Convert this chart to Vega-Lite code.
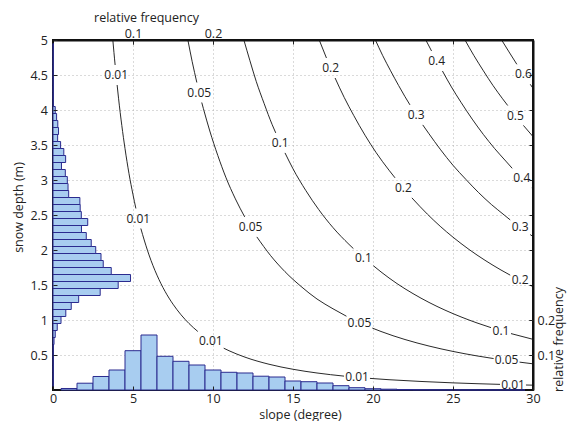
{
  "$schema": "https://vega.github.io/schema/vega-lite/v6.json",
  "width": 480,
  "height": 350,
  "autosize": {"type": "none"},
  "padding": {"left": 53, "top": 40, "right": 34, "bottom": 31},
  "background": "white",
  "config": {
    "view": {"stroke": null},
    "font": "Open Sans",
    "axis": {
      "labelFont": "Open Sans",
      "titleFont": "Open Sans",
      "labelFontSize": 12.5,
      "titleFontSize": 12.5,
      "titleFontWeight": "normal",
      "labelColor": "#222222",
      "titleColor": "#222222",
      "domainColor": "#222222",
      "tickColor": "#222222",
      "gridColor": "#b5b5b5",
      "gridDash": [1, 3],
      "gridOpacity": 1,
      "labelFlush": false
    }
  },
  "datasets": {
    "frame": [{"s0": 0, "s1": 30, "d0": 0, "d1": 5}],
    "contours": [
      {"seg": "a1", "s": 3.74, "d": 5.0}, {"seg": "a1", "s": 3.81, "d": 4.82}, {"seg": "a1", "s": 3.883, "d": 4.643},
      {"seg": "a2", "s": 4.008, "d": 4.357}, {"seg": "a2", "s": 4.1, "d": 4.16}, {"seg": "a2", "s": 4.3, "d": 3.78}, {"seg": "a2", "s": 4.5, "d": 3.45}, {"seg": "a2", "s": 4.75, "d": 3.09}, {"seg": "a2", "s": 5.0, "d": 2.79}, {"seg": "a2", "s": 5.18, "d": 2.593},
      {"seg": "a3", "s": 5.49, "d": 2.307}, {"seg": "a3", "s": 5.6, "d": 2.22}, {"seg": "a3", "s": 6.0, "d": 1.93}, {"seg": "a3", "s": 6.5, "d": 1.64}, {"seg": "a3", "s": 7.0, "d": 1.41}, {"seg": "a3", "s": 7.5, "d": 1.226}, {"seg": "a3", "s": 8.0, "d": 1.075}, {"seg": "a3", "s": 8.5, "d": 0.95}, {"seg": "a3", "s": 9.05, "d": 0.836},
      {"seg": "a4", "s": 10.67, "d": 0.597}, {"seg": "a4", "s": 11.0, "d": 0.561}, {"seg": "a4", "s": 12.0, "d": 0.469}, {"seg": "a4", "s": 13.5, "d": 0.368}, {"seg": "a4", "s": 15.0, "d": 0.296}, {"seg": "a4", "s": 16.5, "d": 0.243}, {"seg": "a4", "s": 18.19, "d": 0.198},
      {"seg": "a5", "s": 19.81, "d": 0.166}, {"seg": "a5", "s": 21.0, "d": 0.147}, {"seg": "a5", "s": 23.0, "d": 0.122}, {"seg": "a5", "s": 25.0, "d": 0.102}, {"seg": "a5", "s": 26.5, "d": 0.09}, {"seg": "a5", "s": 27.94, "d": 0.0805},
      {"seg": "a6", "s": 29.56, "d": 0.0713}, {"seg": "a6", "s": 30.0, "d": 0.069},
      {"seg": "b1", "s": 8.43, "d": 5.0}, {"seg": "b1", "s": 8.7, "d": 4.69}, {"seg": "b1", "s": 8.99, "d": 4.393},
      {"seg": "b2", "s": 9.297, "d": 4.107}, {"seg": "b2", "s": 9.4, "d": 4.02}, {"seg": "b2", "s": 9.8, "d": 3.7}, {"seg": "b2", "s": 10.3, "d": 3.35}, {"seg": "b2", "s": 10.8, "d": 3.04}, {"seg": "b2", "s": 11.4, "d": 2.73}, {"seg": "b2", "s": 11.98, "d": 2.473},
      {"seg": "b3", "s": 12.74, "d": 2.187}, {"seg": "b3", "s": 13.6, "d": 1.92}, {"seg": "b3", "s": 14.5, "d": 1.69}, {"seg": "b3", "s": 15.5, "d": 1.48}, {"seg": "b3", "s": 16.5, "d": 1.3}, {"seg": "b3", "s": 17.5, "d": 1.16}, {"seg": "b3", "s": 18.34, "d": 1.054},
      {"seg": "b4", "s": 19.96, "d": 0.884}, {"seg": "b4", "s": 20.5, "d": 0.836}, {"seg": "b4", "s": 22.0, "d": 0.721}, {"seg": "b4", "s": 23.5, "d": 0.628}, {"seg": "b4", "s": 25.0, "d": 0.551}, {"seg": "b4", "s": 26.5, "d": 0.487}, {"seg": "b4", "s": 27.54, "d": 0.449},
      {"seg": "b5", "s": 29.16, "d": 0.398}, {"seg": "b5", "s": 30.0, "d": 0.374},
      {"seg": "c1", "s": 11.93, "d": 5.0}, {"seg": "c1", "s": 12.3, "d": 4.71}, {"seg": "c1", "s": 12.7, "d": 4.41}, {"seg": "c1", "s": 13.2, "d": 4.09}, {"seg": "c1", "s": 13.7, "d": 3.79}, {"seg": "c1", "s": 13.92, "d": 3.673},
      {"seg": "c2", "s": 14.5, "d": 3.387}, {"seg": "c2", "s": 15.0, "d": 3.16}, {"seg": "c2", "s": 15.8, "d": 2.85}, {"seg": "c2", "s": 16.6, "d": 2.58}, {"seg": "c2", "s": 17.5, "d": 2.32}, {"seg": "c2", "s": 18.5, "d": 2.08}, {"seg": "c2", "s": 18.775, "d": 2.02},
      {"seg": "c3", "s": 20.025, "d": 1.775}, {"seg": "c3", "s": 20.5, "d": 1.687}, {"seg": "c3", "s": 21.5, "d": 1.52}, {"seg": "c3", "s": 22.5, "d": 1.377}, {"seg": "c3", "s": 23.5, "d": 1.251}, {"seg": "c3", "s": 24.5, "d": 1.141}, {"seg": "c3", "s": 25.5, "d": 1.044}, {"seg": "c3", "s": 26.5, "d": 0.958}, {"seg": "c3", "s": 27.375, "d": 0.891},
      {"seg": "c4", "s": 28.625, "d": 0.806}, {"seg": "c4", "s": 30.0, "d": 0.724},
      {"seg": "d1", "s": 16.64, "d": 5.0}, {"seg": "d1", "s": 17.09, "d": 4.743},
      {"seg": "d2", "s": 17.63, "d": 4.457}, {"seg": "d2", "s": 18.2, "d": 4.18}, {"seg": "d2", "s": 18.8, "d": 3.92}, {"seg": "d2", "s": 19.5, "d": 3.64}, {"seg": "d2", "s": 20.2, "d": 3.39}, {"seg": "d2", "s": 21.0, "d": 3.14}, {"seg": "d2", "s": 21.376, "d": 3.031},
      {"seg": "d3", "s": 22.43, "d": 2.745}, {"seg": "d3", "s": 23.4, "d": 2.512}, {"seg": "d3", "s": 24.2, "d": 2.339}, {"seg": "d3", "s": 25.0, "d": 2.183}, {"seg": "d3", "s": 26.0, "d": 2.008}, {"seg": "d3", "s": 27.0, "d": 1.853}, {"seg": "d3", "s": 28.0, "d": 1.714}, {"seg": "d3", "s": 28.575, "d": 1.641},
      {"seg": "d4", "s": 29.825, "d": 1.496}, {"seg": "d4", "s": 30.0, "d": 1.478},
      {"seg": "e1", "s": 20.15, "d": 5.0}, {"seg": "e1", "s": 20.6, "d": 4.78}, {"seg": "e1", "s": 21.1, "d": 4.56}, {"seg": "e1", "s": 21.6, "d": 4.35}, {"seg": "e1", "s": 22.0, "d": 4.19}, {"seg": "e1", "s": 22.31, "d": 4.073},
      {"seg": "e2", "s": 23.11, "d": 3.787}, {"seg": "e2", "s": 23.5, "d": 3.66}, {"seg": "e2", "s": 24.2, "d": 3.44}, {"seg": "e2", "s": 25.0, "d": 3.21}, {"seg": "e2", "s": 25.8, "d": 3.01}, {"seg": "e2", "s": 26.6, "d": 2.82}, {"seg": "e2", "s": 27.4, "d": 2.65}, {"seg": "e2", "s": 28.2, "d": 2.5}, {"seg": "e2", "s": 28.575, "d": 2.43},
      {"seg": "e3", "s": 29.825, "d": 2.22}, {"seg": "e3", "s": 30.0, "d": 2.193},
      {"seg": "f1", "s": 23.3, "d": 5.0}, {"seg": "f1", "s": 23.66, "d": 4.843},
      {"seg": "f2", "s": 24.34, "d": 4.557}, {"seg": "f2", "s": 24.9, "d": 4.33}, {"seg": "f2", "s": 25.5, "d": 4.11}, {"seg": "f2", "s": 26.2, "d": 3.87}, {"seg": "f2", "s": 26.9, "d": 3.65}, {"seg": "f2", "s": 27.6, "d": 3.45}, {"seg": "f2", "s": 28.3, "d": 3.27}, {"seg": "f2", "s": 28.7, "d": 3.167},
      {"seg": "f3", "s": 29.925, "d": 2.885}, {"seg": "f3", "s": 30.0, "d": 2.87},
      {"seg": "g1", "s": 25.75, "d": 5.0}, {"seg": "g1", "s": 26.3, "d": 4.78}, {"seg": "g1", "s": 26.9, "d": 4.56}, {"seg": "g1", "s": 27.5, "d": 4.35}, {"seg": "g1", "s": 28.1, "d": 4.16}, {"seg": "g1", "s": 28.42, "d": 4.064},
      {"seg": "g2", "s": 29.4, "d": 3.78}, {"seg": "g2", "s": 30.0, "d": 3.62},
      {"seg": "h1", "s": 28.04, "d": 5.0}, {"seg": "h1", "s": 28.5, "d": 4.83}, {"seg": "h1", "s": 28.99, "d": 4.653},
      {"seg": "h2", "s": 29.83, "d": 4.367}, {"seg": "h2", "s": 30.0, "d": 4.31}
    ],
    "labels": [
      {"label": "0.01", "s": 3.95, "d": 4.5},
      {"label": "0.01", "s": 5.33, "d": 2.45},
      {"label": "0.01", "s": 9.86, "d": 0.702},
      {"label": "0.01", "s": 19.0, "d": 0.181},
      {"label": "0.01", "s": 28.75, "d": 0.0757},
      {"label": "0.05", "s": 9.14, "d": 4.25},
      {"label": "0.05", "s": 12.35, "d": 2.33},
      {"label": "0.05", "s": 19.15, "d": 0.963},
      {"label": "0.05", "s": 28.35, "d": 0.422},
      {"label": "0.1", "s": 14.2, "d": 3.53},
      {"label": "0.1", "s": 19.4, "d": 1.89},
      {"label": "0.1", "s": 28.0, "d": 0.848},
      {"label": "0.2", "s": 17.35, "d": 4.6},
      {"label": "0.2", "s": 21.9, "d": 2.888},
      {"label": "0.2", "s": 29.2, "d": 1.566},
      {"label": "0.3", "s": 22.7, "d": 3.93},
      {"label": "0.3", "s": 29.2, "d": 2.322},
      {"label": "0.4", "s": 23.98, "d": 4.7},
      {"label": "0.4", "s": 29.3, "d": 3.024},
      {"label": "0.5", "s": 28.9, "d": 3.921},
      {"label": "0.6", "s": 29.4, "d": 4.51}
    ],
    "slopehist": [
      {"lo": 0.5, "hi": 1.5, "freq": 0.0043},
      {"lo": 1.5, "hi": 2.5, "freq": 0.0194},
      {"lo": 2.5, "hi": 3.5, "freq": 0.0386},
      {"lo": 3.5, "hi": 4.5, "freq": 0.0571},
      {"lo": 4.5, "hi": 5.5, "freq": 0.1123},
      {"lo": 5.5, "hi": 6.5, "freq": 0.1571},
      {"lo": 6.5, "hi": 7.5, "freq": 0.0963},
      {"lo": 7.5, "hi": 8.5, "freq": 0.082},
      {"lo": 8.5, "hi": 9.5, "freq": 0.0714},
      {"lo": 9.5, "hi": 10.5, "freq": 0.0571},
      {"lo": 10.5, "hi": 11.5, "freq": 0.0506},
      {"lo": 11.5, "hi": 12.5, "freq": 0.0486},
      {"lo": 12.5, "hi": 13.5, "freq": 0.0394},
      {"lo": 13.5, "hi": 14.5, "freq": 0.0371},
      {"lo": 14.5, "hi": 15.5, "freq": 0.0257},
      {"lo": 15.5, "hi": 16.5, "freq": 0.0237},
      {"lo": 16.5, "hi": 17.5, "freq": 0.02},
      {"lo": 17.5, "hi": 18.5, "freq": 0.0123},
      {"lo": 18.5, "hi": 19.5, "freq": 0.0066},
      {"lo": 19.5, "hi": 20.5, "freq": 0.0037},
      {"lo": 20.5, "hi": 21.5, "freq": 0.0023},
      {"lo": 21.5, "hi": 22.5, "freq": 0.0014},
      {"lo": 22.5, "hi": 23.5, "freq": 0.0009},
      {"lo": 23.5, "hi": 24.5, "freq": 0.0006},
      {"lo": 24.5, "hi": 25.5, "freq": 0.0004},
      {"lo": 25.5, "hi": 26.5, "freq": 0.0003},
      {"lo": 26.5, "hi": 27.5, "freq": 0.0002},
      {"lo": 27.5, "hi": 28.5, "freq": 0.0002},
      {"lo": 28.5, "hi": 29.5, "freq": 0.0002}
    ],
    "depthhist": [
      {"lo": 0.05, "hi": 0.15, "freq": 0.0003},
      {"lo": 0.15, "hi": 0.25, "freq": 0.0003},
      {"lo": 0.25, "hi": 0.35, "freq": 0.0003},
      {"lo": 0.35, "hi": 0.45, "freq": 0.0003},
      {"lo": 0.45, "hi": 0.55, "freq": 0.0003},
      {"lo": 0.55, "hi": 0.65, "freq": 0.0004},
      {"lo": 0.65, "hi": 0.75, "freq": 0.0013},
      {"lo": 0.75, "hi": 0.85, "freq": 0.0028},
      {"lo": 0.85, "hi": 0.95, "freq": 0.0053},
      {"lo": 0.95, "hi": 1.05, "freq": 0.01},
      {"lo": 1.05, "hi": 1.15, "freq": 0.016},
      {"lo": 1.15, "hi": 1.25, "freq": 0.0228},
      {"lo": 1.25, "hi": 1.35, "freq": 0.0321},
      {"lo": 1.35, "hi": 1.45, "freq": 0.059},
      {"lo": 1.45, "hi": 1.55, "freq": 0.0815},
      {"lo": 1.55, "hi": 1.65, "freq": 0.0969},
      {"lo": 1.65, "hi": 1.75, "freq": 0.0728},
      {"lo": 1.75, "hi": 1.85, "freq": 0.0628},
      {"lo": 1.85, "hi": 1.95, "freq": 0.06},
      {"lo": 1.95, "hi": 2.05, "freq": 0.0534},
      {"lo": 2.05, "hi": 2.15, "freq": 0.0478},
      {"lo": 2.15, "hi": 2.25, "freq": 0.0416},
      {"lo": 2.25, "hi": 2.35, "freq": 0.0356},
      {"lo": 2.35, "hi": 2.45, "freq": 0.0434},
      {"lo": 2.45, "hi": 2.55, "freq": 0.0354},
      {"lo": 2.55, "hi": 2.65, "freq": 0.034},
      {"lo": 2.65, "hi": 2.75, "freq": 0.0336},
      {"lo": 2.75, "hi": 2.85, "freq": 0.0196},
      {"lo": 2.85, "hi": 2.95, "freq": 0.0188},
      {"lo": 2.95, "hi": 3.05, "freq": 0.0179},
      {"lo": 3.05, "hi": 3.15, "freq": 0.0154},
      {"lo": 3.15, "hi": 3.25, "freq": 0.0106},
      {"lo": 3.25, "hi": 3.35, "freq": 0.0158},
      {"lo": 3.35, "hi": 3.45, "freq": 0.0135},
      {"lo": 3.45, "hi": 3.55, "freq": 0.0095},
      {"lo": 3.55, "hi": 3.65, "freq": 0.0058},
      {"lo": 3.65, "hi": 3.75, "freq": 0.0069},
      {"lo": 3.75, "hi": 3.85, "freq": 0.006},
      {"lo": 3.85, "hi": 3.95, "freq": 0.0045},
      {"lo": 3.95, "hi": 4.05, "freq": 0.0028},
      {"lo": 4.05, "hi": 4.15, "freq": 0.0004},
      {"lo": 4.15, "hi": 4.25, "freq": 0.0003},
      {"lo": 4.25, "hi": 4.35, "freq": 0.0003},
      {"lo": 4.35, "hi": 4.45, "freq": 0.0003},
      {"lo": 4.45, "hi": 4.55, "freq": 0.0003},
      {"lo": 4.55, "hi": 4.65, "freq": 0.0003},
      {"lo": 4.65, "hi": 4.75, "freq": 0.0003},
      {"lo": 4.75, "hi": 4.85, "freq": 0.0003},
      {"lo": 4.85, "hi": 4.95, "freq": 0.0003}
    ]
  },
  "resolve": {"scale": {"x": "independent", "y": "independent"}},
  "layer": [
    {
      "data": {"name": "contours"},
      "mark": {"type": "line", "opacity": 0},
      "encoding": {
        "x": {"field": "s", "type": "quantitative", "scale": {"domain": [0, 30], "nice": false, "zero": false},
          "axis": {"orient": "top", "values": [0, 5, 10, 15, 20, 25, 30], "grid": true, "labels": false, "domain": true, "domainColor": "#111111", "domainWidth": 2, "tickSize": -4, "title": null, "zindex": 0}},
        "y": {"field": "d", "type": "quantitative", "scale": {"domain": [0, 5], "nice": false, "zero": false},
          "axis": {"orient": "right", "values": [0, 0.5, 1, 1.5, 2, 2.5, 3, 3.5, 4, 4.5, 5], "grid": true, "labels": false, "domain": true, "domainColor": "#111111", "domainWidth": 2, "tickSize": -4, "title": null, "zindex": 0}},
        "detail": {"field": "seg"}
      }
    },
    {
      "data": {"name": "frame"},
      "mark": {"type": "rect", "filled": false, "color": "#111111", "opacity": 1, "strokeWidth": 2},
      "encoding": {
        "x": {"field": "s0", "type": "quantitative", "scale": {"domain": [0, 30], "nice": false, "zero": false}, "axis": null},
        "x2": {"field": "s1"},
        "y": {"field": "d0", "type": "quantitative", "scale": {"domain": [0, 5], "nice": false, "zero": false},
          "axis": {"orient": "left", "values": [1, 2, 3, 4, 5], "format": "d", "grid": false, "domain": false, "labelOverlap": false, "tickSize": -4, "labelPadding": 9.5, "title": null, "zindex": 1}},
        "y2": {"field": "d1"}
      }
    },
    {
      "data": {"name": "contours"},
      "mark": {"type": "line", "color": "#111111", "strokeWidth": 0.9, "interpolate": "monotone"},
      "encoding": {
        "x": {"field": "s", "type": "quantitative", "scale": {"domain": [0, 30], "nice": false, "zero": false},
          "axis": {"orient": "bottom", "values": [0, 5, 10, 15, 20, 25, 30], "format": "d", "grid": false, "domain": false, "labelOverlap": false, "tickSize": -4, "labelPadding": 6.5, "title": "slope (degree)", "titleX": 247, "titleY": 24, "titleAlign": "center", "titleBaseline": "middle", "zindex": 1}},
        "y": {"field": "d", "type": "quantitative", "scale": {"domain": [0, 5], "nice": false, "zero": false},
          "axis": {"orient": "left", "values": [0.5, 1.5, 2.5, 3.5, 4.5], "format": ".1f", "grid": false, "domain": false, "labelOverlap": false, "tickSize": -4, "labelPadding": 9.5, "title": "snow depth (m)", "titleX": -35, "titleY": 167, "titleAngle": 270, "titleAlign": "center", "titleBaseline": "middle", "zindex": 1}},
        "detail": {"field": "seg"}
      }
    },
    {
      "data": {"name": "labels"},
      "mark": {"type": "text", "font": "Open Sans", "fontSize": 12, "color": "#222222", "align": "center", "baseline": "middle"},
      "encoding": {
        "x": {"field": "s", "type": "quantitative", "scale": {"domain": [0, 30], "nice": false, "zero": false}, "axis": null},
        "y": {"field": "d", "type": "quantitative", "scale": {"domain": [0, 5], "nice": false, "zero": false}, "axis": null},
        "text": {"field": "label"}
      }
    },
    {
      "data": {"name": "slopehist"},
      "mark": {"type": "rect", "fill": "#a8cdf0", "stroke": "#2b2b8f", "strokeWidth": 1, "opacity": 1},
      "encoding": {
        "x": {"field": "lo", "type": "quantitative", "scale": {"domain": [0, 30], "nice": false, "zero": false}, "axis": null},
        "x2": {"field": "hi"},
        "y": {"field": "freq", "type": "quantitative", "scale": {"domain": [0, 1], "nice": false},
          "axis": {"orient": "right", "values": [0.1, 0.2], "format": ".1f", "grid": false, "domain": false, "labelOverlap": false, "tickSize": -4, "labelPadding": 8, "title": "relative frequency", "titleX": 25, "titleY": 299, "titleAngle": 270, "titleAlign": "center", "titleBaseline": "middle", "zindex": 1}},
        "y2": {"datum": 0}
      }
    },
    {
      "data": {"name": "depthhist"},
      "mark": {"type": "rect", "fill": "#a8cdf0", "stroke": "#2b2b8f", "strokeWidth": 1, "opacity": 1},
      "encoding": {
        "y": {"field": "lo", "type": "quantitative", "scale": {"domain": [0, 5], "nice": false, "zero": false}, "axis": null},
        "y2": {"field": "hi"},
        "x": {"field": "freq", "type": "quantitative", "scale": {"domain": [0, 0.6], "nice": false},
          "axis": {"orient": "top", "values": [0.1, 0.2], "format": ".1f", "grid": false, "domain": false, "labelOverlap": false, "tickSize": -4, "labelPadding": 4, "title": "relative frequency", "titleX": 93, "titleY": -23, "titleAlign": "center", "titleBaseline": "middle", "zindex": 1}},
        "x2": {"datum": 0}
      }
    }
  ]
}
